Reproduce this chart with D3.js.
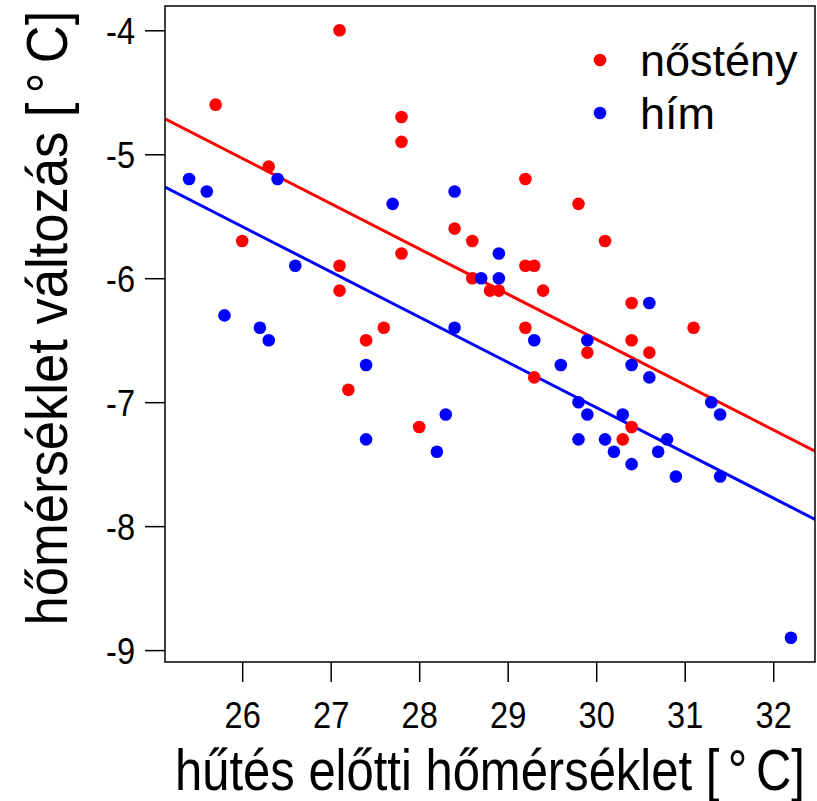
<!DOCTYPE html>
<html>
<head>
<meta charset="utf-8">
<script src="https://cdn.jsdelivr.net/npm/d3@7"></script>
<style>
  body { margin: 0; background: #fff; }
  svg text { font-family: "Liberation Sans", Arial, sans-serif; fill: #000; }
</style>
</head>
<body>
<div id="chart"></div>
<script>
// data
var femaleX = [27.1, 25.7, 26.3, 27.8, 27.8, 29.2, 29.8, 26.0, 27.1, 27.1, 27.6, 27.4, 27.2,
  28.4, 28.6, 27.8, 29.2, 29.3, 28.6, 28.8, 28.9, 29.4, 29.2, 29.3, 29.9, 28.0,
  30.1, 30.4, 31.1, 30.4, 30.6, 30.4, 30.3];
var femaleY = [-4.0, -4.6, -5.1, -4.7, -4.9, -5.2, -5.4, -5.7, -5.9, -6.1, -6.4, -6.5, -6.9,
  -5.6, -5.7, -5.8, -5.9, -5.9, -6.0, -6.1, -6.1, -6.1, -6.4, -6.8, -6.6, -7.2,
  -5.7, -6.2, -6.4, -6.5, -6.6, -7.2, -7.3];
var maleX = [25.4, 25.6, 26.4, 27.7, 28.4, 26.6, 25.8, 26.2, 26.3, 27.4, 27.4, 28.9, 28.7,
  28.9, 28.4, 29.3, 29.6, 29.8, 29.9, 29.9, 28.3, 29.8, 28.2, 30.6, 30.4, 30.6,
  31.3, 31.4, 30.3, 30.1, 30.8, 30.2, 30.7, 30.4, 30.9, 31.4, 32.2];
var maleY = [-5.2, -5.3, -5.2, -5.4, -5.3, -5.9, -6.3, -6.4, -6.5, -6.7, -7.3, -5.8, -6.0,
  -6.0, -6.4, -6.5, -6.7, -7.0, -6.5, -7.1, -7.1, -7.3, -7.4, -6.2, -6.7, -6.8,
  -7.0, -7.1, -7.1, -7.3, -7.3, -7.4, -7.4, -7.5, -7.6, -7.6, -8.9];
// fitted lines: intercept, slope
var groupNames = ["nőstény", "hím"];
var groupColors = ["#ff0000", "#0000ff"];
var lineIntercepts = [4.457, 3.907];
var lineSlopes = [-0.365, -0.365];
var xTicks = [26, 27, 28, 29, 30, 31, 32];
var yTicks = [-4, -5, -6, -7, -8, -9];

var groups = [
  { x: femaleX, y: femaleY },
  { x: maleX, y: maleY }
];

var W = 817, H = 801;
var margin = { top: 6, right: 2, bottom: 139, left: 165 },
  width = W - margin.left - margin.right,
  height = H - margin.top - margin.bottom;

var svg = d3.select("#chart")
  .append("svg")
  .attr("width", W)
  .attr("height", H);

var g = svg.append("g")
  .attr("transform", "translate(" + margin.left + "," + margin.top + ")");

// R-style 4% padding around the data range
var allX = femaleX.concat(maleX), allY = femaleY.concat(maleY);
var xr = d3.extent(allX), yr = d3.extent(allY);
var xp = (xr[1] - xr[0]) * 0.04, yp = (yr[1] - yr[0]) * 0.04;
var x = d3.scaleLinear().domain([xr[0] - xp, xr[1] + xp]).range([0, width]);
var y = d3.scaleLinear().domain([yr[0] - yp, yr[1] + yp]).range([height, 0]);

g.append("clipPath").attr("id", "clip")
  .append("rect").attr("width", width).attr("height", height);

// axes (labels squeezed a little, the reference font is narrow)
var sx = 0.88;
var xAxis = g.append("g")
  .attr("transform", "translate(0," + height + ")")
  .call(d3.axisBottom(x).tickValues(xTicks).tickSize(20).tickPadding(12).tickFormat(d3.format("d")));
var yAxis = g.append("g")
  .call(d3.axisLeft(y).tickValues(yTicks).tickSize(20).tickPadding(10).tickFormat(function (d) { return d; }));
[xAxis, yAxis].forEach(function (a) {
  a.select(".domain").remove();
  a.selectAll("line").attr("stroke", "#000").attr("stroke-width", 1.5);
  a.selectAll("text").attr("font-size", "37px").attr("font-family", null).attr("fill", "#000")
    .attr("transform", "scale(" + sx + ",1)");
});
yAxis.selectAll("text").attr("dy", "0.36em").attr("x", -30 / sx);
xAxis.selectAll("text").attr("dy", "0.92em");

// regression lines
var plot = g.append("g").attr("clip-path", "url(#clip)");
groups.forEach(function (d, i) {
  var x0 = x.domain()[0], x1 = x.domain()[1];
  plot.append("line")
    .attr("x1", x(x0)).attr("y1", y(lineIntercepts[i] + lineSlopes[i] * x0))
    .attr("x2", x(x1)).attr("y2", y(lineIntercepts[i] + lineSlopes[i] * x1))
    .attr("stroke", groupColors[i])
    .attr("stroke-width", 3);
});

// points
groups.forEach(function (d, i) {
  plot.selectAll(".pt" + i)
    .data(d.x.map(function (v, j) { return [v, d.y[j]]; }))
    .enter()
    .append("circle")
    .attr("cx", function (p) { return x(p[0]); })
    .attr("cy", function (p) { return y(p[1]); })
    .attr("r", 6.3)
    .attr("fill", groupColors[i]);
});

// box
g.append("rect")
  .attr("width", width).attr("height", height)
  .attr("fill", "none").attr("stroke", "#000").attr("stroke-width", 1.5);

// legend
var legend = g.append("g").attr("transform", "translate(435,54)");
groupNames.forEach(function (name, i) {
  legend.append("circle").attr("cx", 0).attr("cy", i * 53).attr("r", 6.3).attr("fill", groupColors[i]);
  legend.append("text").attr("x", 40).attr("y", i * 53).attr("dy", "0.36em")
    .attr("font-size", "45px").text(name);
});

// axis titles, degree sign spaced like R plotmath, squeezed to the reference length
function title(label, cx, cy, rot, len) {
  var t = svg.append("text").attr("font-size", "57px").attr("text-anchor", "middle");
  t.append("tspan").text(label + " [");
  t.append("tspan").attr("dx", 10).text("°");
  t.append("tspan").attr("dx", 10).text("C]");
  var w = t.node().getBBox().width;
  t.attr("transform", "translate(" + cx + "," + cy + ") rotate(" + rot + ") scale(" + (len / w) + ",1)");
}
title("hűtés előtti hőmérséklet", margin.left + width / 2, 790, 0, 630);
title("hőmérséklet változás", 67, 318, -90, 615);
</script>
</body>
</html>
